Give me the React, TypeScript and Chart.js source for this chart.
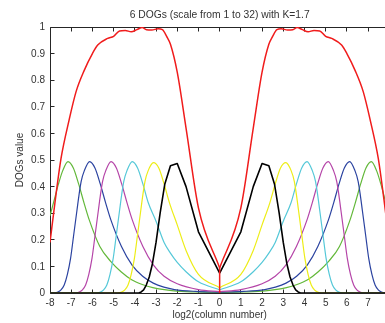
import React, { useEffect, useRef } from 'react';
import { Chart, registerables } from 'chart.js';

Chart.register(...registerables);

const TITLE = '6 DOGs (scale from 1 to 32) with K=1.7';
const X_TITLE = 'log2(column number)';
const Y_TITLE = 'DOGs value';

// Sum curve (red)
const redX = [-8, -7.75, -7.48, -7.1, -6.77, -6.38, -6.0, -5.75, -5.28, -5.0, -4.72, -4.45, -4.17, -3.9, -3.65, -3.45, -3.2, -2.9, -2.7, -2.5, -2.32, -2.0, -1.585, -1.0, 0,
  1.0, 1.585, 2.0, 2.32, 2.5, 2.7, 2.9, 3.2, 3.45, 3.65, 3.9, 4.17, 4.45, 4.72, 5.0, 5.28, 5.75, 6.0, 6.38, 6.77, 7.1, 7.48, 7.75, 8];
const redY = [0.19, 0.35, 0.506, 0.65, 0.757, 0.838, 0.9, 0.932, 0.957, 0.965, 0.985, 0.987, 0.982, 0.99, 0.998, 0.99, 0.989, 0.993, 0.99, 0.965, 0.935, 0.83, 0.62, 0.32, 0.094,
  0.32, 0.62, 0.83, 0.935, 0.965, 0.99, 0.993, 0.989, 0.99, 0.998, 0.99, 0.982, 0.987, 0.985, 0.965, 0.957, 0.932, 0.9, 0.838, 0.757, 0.65, 0.506, 0.35, 0.19];
const redStemX = [0, 0];
const redStemY = [0, 0.094];

// DOG scale 32 (black)
const blackX = [-8, -3.81, -3.7, -3.585, -3.46, -3.32, -3.17, -3.0, -2.807, -2.585, -2.32, -2.0, -1.585, -1.0, 0,
  1.0, 1.585, 2.0, 2.32, 2.585, 2.807, 3.0, 3.17, 3.32, 3.46, 3.585, 3.7, 3.81, 8];
const blackY = [0, 0, 0.004, 0.012, 0.03, 0.06, 0.11, 0.19, 0.3, 0.41, 0.478, 0.487, 0.4, 0.23, 0.075,
  0.23, 0.4, 0.487, 0.478, 0.41, 0.3, 0.19, 0.11, 0.06, 0.03, 0.012, 0.004, 0, 0];

// DOG scale 16 (yellow)
const yellowX = [-8, -4.82, -4.62, -4.47, -4.32, -4.17, -4.02, -3.87, -3.72, -3.62, -3.52, -3.37, -3.12, -2.87, -2.62, -2.37, -2.0, -1.585, -1.0, 0,
  1.0, 1.585, 2.0, 2.37, 2.62, 2.87, 3.12, 3.37, 3.52, 3.62, 3.72, 3.87, 4.02, 4.17, 4.32, 4.47, 4.62, 4.82, 8];
const yellowY = [0, 0, 0.004, 0.012, 0.03, 0.07, 0.13, 0.22, 0.31, 0.37, 0.42, 0.46, 0.49, 0.47, 0.41, 0.34, 0.256, 0.16, 0.07, 0.02,
  0.07, 0.16, 0.256, 0.34, 0.41, 0.47, 0.49, 0.46, 0.42, 0.37, 0.31, 0.22, 0.13, 0.07, 0.03, 0.012, 0.004, 0, 0];

// DOG scale 8 (cyan)
const cyanX = [-8, -5.82, -5.62, -5.47, -5.32, -5.17, -5.02, -4.87, -4.72, -4.62, -4.52, -4.37, -4.12, -3.87, -3.62, -3.37, -3.0, -2.62, -2.32, -2.0, -1.585, -1.0, 0,
  1.0, 1.585, 2.0, 2.32, 2.62, 3.0, 3.37, 3.62, 3.87, 4.12, 4.37, 4.52, 4.62, 4.72, 4.87, 5.02, 5.17, 5.32, 5.47, 5.62, 5.82, 8];
const cyanY = [0, 0, 0.004, 0.012, 0.03, 0.07, 0.13, 0.22, 0.31, 0.37, 0.42, 0.46, 0.494, 0.47, 0.41, 0.34, 0.27, 0.19, 0.15, 0.115, 0.08, 0.042, 0.012,
  0.042, 0.08, 0.115, 0.15, 0.19, 0.27, 0.34, 0.41, 0.47, 0.494, 0.46, 0.42, 0.37, 0.31, 0.22, 0.13, 0.07, 0.03, 0.012, 0.004, 0, 0];

// DOG scale 4 (magenta)
const magentaX = [-8, -6.82, -6.62, -6.47, -6.32, -6.17, -6.02, -5.87, -5.72, -5.62, -5.52, -5.37, -5.12, -4.87, -4.62, -4.37, -4.12, -3.62, -3.12, -2.62, -2.0, -1.0, 0,
  1.0, 2.0, 2.62, 3.12, 3.62, 4.12, 4.37, 4.62, 4.87, 5.12, 5.37, 5.52, 5.62, 5.72, 5.87, 6.02, 6.17, 6.32, 6.47, 6.62, 6.82, 8];
const magentaY = [0, 0, 0.004, 0.012, 0.03, 0.07, 0.13, 0.22, 0.31, 0.37, 0.42, 0.46, 0.494, 0.47, 0.41, 0.34, 0.275, 0.175, 0.105, 0.063, 0.035, 0.013, 0.005,
  0.013, 0.035, 0.063, 0.105, 0.175, 0.275, 0.34, 0.41, 0.47, 0.494, 0.46, 0.42, 0.37, 0.31, 0.22, 0.13, 0.07, 0.03, 0.012, 0.004, 0, 0];

// DOG scale 2 (blue)
const blueX = [-8, -7.83, -7.63, -7.48, -7.33, -7.18, -7.03, -6.88, -6.73, -6.63, -6.53, -6.38, -6.13, -5.88, -5.63, -5.38, -5.13, -4.63, -4.13, -3.63, -3.13, -2.63, -2.13, -1.13, 0,
  1.13, 2.13, 2.63, 3.13, 3.63, 4.13, 4.63, 5.13, 5.38, 5.63, 5.88, 6.13, 6.38, 6.53, 6.63, 6.73, 6.88, 7.03, 7.18, 7.33, 7.48, 7.63, 7.83, 8];
const blueY = [0, 0, 0.004, 0.012, 0.03, 0.07, 0.13, 0.22, 0.31, 0.37, 0.42, 0.46, 0.494, 0.47, 0.41, 0.34, 0.275, 0.175, 0.105, 0.063, 0.037, 0.022, 0.013, 0.006, 0.003,
  0.006, 0.013, 0.022, 0.037, 0.063, 0.105, 0.175, 0.275, 0.34, 0.41, 0.47, 0.494, 0.46, 0.42, 0.37, 0.31, 0.22, 0.13, 0.07, 0.03, 0.012, 0.004, 0, 0];

// DOG scale 1 (green)
const greenX = [-8, -7.8, -7.6, -7.4, -7.15, -6.9, -6.65, -6.4, -6.15, -5.65, -5.15, -4.65, -4.15, -3.65, -3.15, -2.15, -1.15, 0,
  1.15, 2.15, 3.15, 3.65, 4.15, 4.65, 5.15, 5.65, 6.15, 6.4, 6.65, 6.9, 7.15, 7.4, 7.6, 7.8, 8];
const greenY = [0.29, 0.35, 0.41, 0.46, 0.494, 0.47, 0.41, 0.34, 0.275, 0.175, 0.12, 0.08, 0.05, 0.032, 0.02, 0.008, 0.004, 0.002,
  0.004, 0.008, 0.02, 0.032, 0.05, 0.08, 0.12, 0.175, 0.275, 0.34, 0.41, 0.47, 0.494, 0.46, 0.41, 0.35, 0.29];

const FONT = '"Liberation Sans", Arial, Helvetica, sans-serif';
const TEXT = '#333333';

type Series = { x: number[]; y: number[]; color: string; width: number; straight?: boolean; split?: boolean };

const SERIES: Series[] = [
  { x: redX, y: redY, color: '#f01c1c', width: 1.5 },
  { x: redStemX, y: redStemY, color: '#f01c1c', width: 1.5, straight: true, split: false },
  { x: blackX, y: blackY, color: '#000000', width: 1.6, straight: true },
  { x: yellowX, y: yellowY, color: '#eded17', width: 1.2 },
  { x: cyanX, y: cyanY, color: '#55c8d8', width: 1.2 },
  { x: magentaX, y: magentaY, color: '#b545a8', width: 1.2 },
  { x: blueX, y: blueY, color: '#2b43a0', width: 1.2 },
  { x: greenX, y: greenY, color: '#63b83a', width: 1.2 },
];

function buildDatasets() {
  const out: any[] = [];
  SERIES.forEach((s) => {
    const parts: { x: number; y: number }[][] = [];
    if (s.split === false) {
      parts.push(s.x.map((x, i) => ({ x, y: s.y[i] })));
    } else {
      parts.push(s.x.map((x, i) => ({ x, y: s.y[i] })).filter((p) => p.x <= 0));
      parts.push(s.x.map((x, i) => ({ x, y: s.y[i] })).filter((p) => p.x >= 0));
    }
    parts.forEach((data) => {
      out.push({
        data,
        borderColor: s.color,
        backgroundColor: s.color,
        borderWidth: s.width,
        pointRadius: 0,
        fill: false,
        tension: 0,
        cubicInterpolationMode: s.straight ? 'default' : 'monotone',
        borderJoinStyle: 'round',
      });
    });
  });
  return out;
}

function fmt(v: number) {
  return String(Number(v.toFixed(1)));
}

const framePlugin = {
  id: 'matlabFrame',
  beforeDatasetsDraw(chart: any) {
    const { ctx, chartArea, scales } = chart;
    const { left, right, top, bottom } = chartArea;
    const L = Math.floor(left) + 0.5;
    const R = Math.floor(right) + 0.5;
    const T = Math.floor(top) + 0.5;
    const B = Math.floor(bottom) + 0.5;
    ctx.save();
    ctx.strokeStyle = '#262626';
    ctx.lineWidth = 1;
    ctx.beginPath();
    ctx.moveTo(L, T); ctx.lineTo(R, T); ctx.lineTo(R, B); ctx.lineTo(L, B); ctx.closePath();
    const tl = 4;
    scales.x.ticks.forEach((t: any) => {
      const px = Math.floor(scales.x.getPixelForValue(t.value)) + 0.5;
      ctx.moveTo(px, T); ctx.lineTo(px, T + tl);
      ctx.moveTo(px, B); ctx.lineTo(px, B - tl);
    });
    scales.y.ticks.forEach((t: any) => {
      const py = Math.floor(scales.y.getPixelForValue(t.value)) + 0.5;
      ctx.moveTo(L, py); ctx.lineTo(L + tl, py);
      ctx.moveTo(R, py); ctx.lineTo(R - tl, py);
    });
    ctx.stroke();
    ctx.restore();
  },
  afterDraw(chart: any) {
    const { ctx, chartArea, scales } = chart;
    const { left, right, top, bottom } = chartArea;
    ctx.save();
    ctx.fillStyle = TEXT;
    ctx.font = `10px ${FONT}`;
    ctx.textBaseline = 'middle';
    ctx.textAlign = 'center';
    scales.x.ticks.forEach((t: any) => {
      ctx.fillText(fmt(t.value), scales.x.getPixelForValue(t.value), bottom + 10.5);
    });
    ctx.textAlign = 'right';
    scales.y.ticks.forEach((t: any) => {
      ctx.fillText(fmt(t.value), left - 5, scales.y.getPixelForValue(t.value) + 0.5);
    });
    ctx.textAlign = 'center';
    ctx.fillText(X_TITLE, (left + right) / 2, bottom + 22.5);
    ctx.save();
    ctx.translate(20, (top + bottom) / 2);
    ctx.rotate(-Math.PI / 2);
    ctx.fillText(Y_TITLE, 0, 0);
    ctx.restore();
    ctx.font = `10.3px ${FONT}`;
    ctx.fillText(TITLE, (left + right) / 2, 15.5);
    ctx.restore();
  },
};

const CANVAS_W = 400;
const CANVAS_H = 323;

export default function App() {
  const ref = useRef<HTMLCanvasElement | null>(null);
  useEffect(() => {
    if (!ref.current) return;
    const chart = new Chart(ref.current, {
      type: 'line',
      data: { datasets: buildDatasets() },
      options: {
        animation: false,
        responsive: false,
        devicePixelRatio: 1,
        layout: { padding: { top: 27, right: CANVAS_W - 389.3, left: 0, bottom: 0 } },
        plugins: { legend: { display: false }, tooltip: { enabled: false }, title: { display: false } },
        elements: { point: { radius: 0 } },
        scales: {
          x: {
            type: 'linear',
            min: -8,
            max: 8,
            afterFit: (s: any) => { s.height = 30; },
            grid: { display: false },
            border: { display: false },
            ticks: { stepSize: 1, display: false, autoSkip: false },
          },
          y: {
            type: 'linear',
            min: 0,
            max: 1,
            afterFit: (s: any) => { s.width = 50; },
            grid: { display: false },
            border: { display: false },
            ticks: { stepSize: 0.1, display: false },
          },
        },
      },
      plugins: [framePlugin],
    } as any);
    return () => chart.destroy();
  }, []);
  return (
    <div style={{ position: 'absolute', left: 0, top: 0, width: 385, height: 323, overflow: 'hidden', background: '#ffffff' }}>
      <canvas ref={ref} width={CANVAS_W} height={CANVAS_H} style={{ width: CANVAS_W, height: CANVAS_H, display: 'block' }} />
    </div>
  );
}
